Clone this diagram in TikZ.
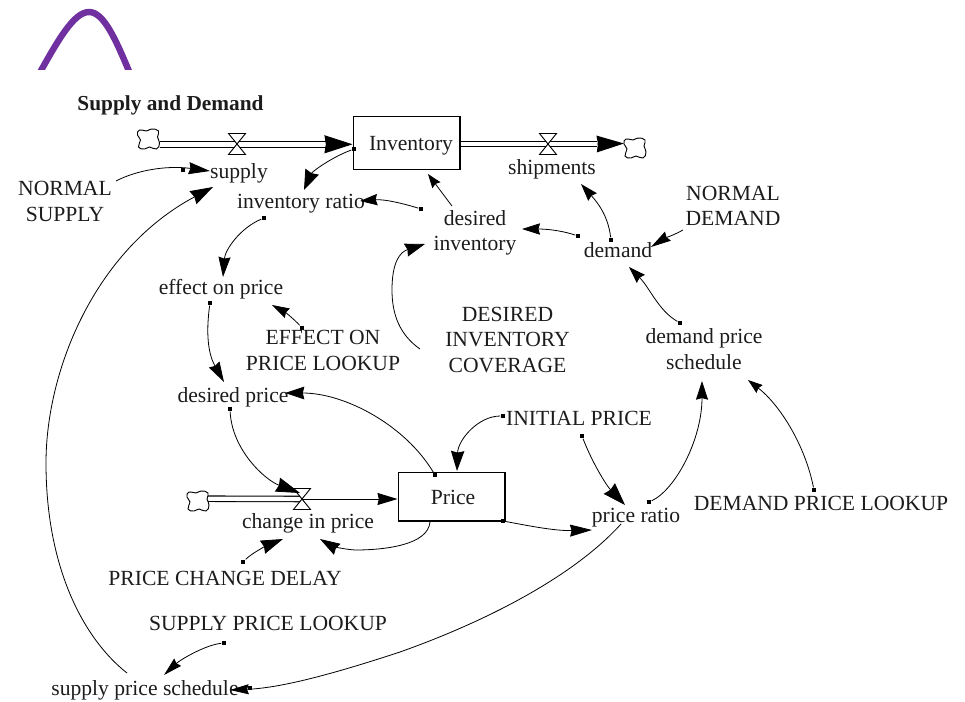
\documentclass[tikz,border=0pt]{standalone}
\usepackage{fontspec}
\setmainfont{Liberation Serif}
\usetikzlibrary{arrows.meta}
\definecolor{arcpurple}{HTML}{7030A0}
\definecolor{inkdark}{HTML}{1C1C1C}
\tikzset{
  lbl/.style={inner sep=0pt,align=center,text=inkdark,yshift=-0.6pt,font=\fontsize{16.2}{19.3}\selectfont},
  titlelbl/.style={inner sep=0pt,text=inkdark,yshift=-0.6pt,font=\bfseries\fontsize{16}{18}\selectfont},
  stockbox/.style={draw=black,line width=0.8pt,minimum width=80.2pt,inner sep=0pt},
  dotn/.style={fill=black,inner sep=0pt,minimum size=3.6pt,rectangle},
  link/.style={line width=0.6pt,black},
  hd/.style 2 args={-{Stealth[length=#1pt,width=#2pt,inset=1.2pt]}},
  pipe/.style={draw=black,line width=0.8pt,double=white,double distance=3.3pt},
  flowhead/.style 2 args={line width=0.7pt,-{Stealth[length=#1pt,width=#2pt,inset=1pt]}},
  cloud shape/.pic={\draw[line width=0.7pt,black,fill=white] plot[smooth cycle,tension=0.9] coordinates
     {(-9,-9)(-2,-8)(3,-10)(10,-8)(9,-2)(11,4)(8,10)(1,8)(-4,10)(-10,8)(-8,1)(-11,-4)};},
  valve shape/.pic={\draw[line width=0.7pt,black,fill=white] (-8.5,-10.5)--(8.5,-10.5)--(-8.5,10.5)--(8.5,10.5)--cycle;}
}
\begin{document}
\begin{tikzpicture}[x=0.75pt,y=-0.75pt]
\useasboundingbox (0,0) rectangle (965,701);
% decorative arc
\begin{scope}
  \clip (0,0) rectangle (965,69);
  \draw[arcpurple,line width=4.8pt] (38,76) .. controls (58,40) and (74,12) .. (89,12) .. controls (104,12) and (116,40) .. (131,76);
\end{scope}
% stocks
\node[stockbox,minimum height=39.7pt] (inv) at (406.5,143) {};
\node[stockbox,minimum height=36.7pt] (price) at (451.5,496.5) {};
% texts
\node[titlelbl] (title) at (170.5,105) {Supply and Demand};
\node[lbl] (invtext) at (411,145) {Inventory};
\node[lbl] (pricetext) at (453,497) {Price};
\node[lbl] (supply) at (239,173) {supply};
\node[lbl] (shipments) at (552,168) {shipments};
\node[lbl] (normsup) at (65,201) {NORMAL\\SUPPLY};
\node[lbl] (invratio) at (301,203) {inventory ratio};
\node[lbl] (desinv) at (475,232) {desired\\inventory};
\node[lbl] (demand) at (618,249) {demand};
\node[lbl] (normdem) at (733,205) {NORMAL\\DEMAND};
\node[lbl] (effprice) at (221,288) {effect on price};
\node[lbl] (efflook) at (323,350) {EFFECT ON\\PRICE LOOKUP};
\node[lbl] (cover) at (507.5,339) {DESIRED\\INVENTORY\\COVERAGE};
\node[lbl] (dps) at (704,348.5) {demand price\\schedule};
\node[lbl] (desprice) at (233,396) {desired price};
\node[lbl] (initprice) at (579,418) {INITIAL PRICE};
\node[lbl] (priceratio) at (636,517) {price ratio};
\node[lbl] (demlook) at (821,503) {DEMAND PRICE LOOKUP};
\node[lbl] (change) at (308,523) {change in price};
\node[lbl] (pcd) at (225,578) {PRICE CHANGE DELAY};
\node[lbl] (suplook) at (268,623) {SUPPLY PRICE LOOKUP};
\node[lbl] (sps) at (145,690) {supply price schedule};
% flow coordinates
\coordinate (cl1) at (148.5,139);
\coordinate (cl2) at (635,148);
\coordinate (cl3) at (198,501);
\coordinate (v1) at (237,144);
\coordinate (v2) at (548,144);
\coordinate (v3) at (302,499);
\coordinate (p1s) at (160,144.3);
\coordinate (p1e) at (327,144.3);
\coordinate (p1t) at (inv.west|-p1e);
\coordinate (p2s) at (inv.east|-v2);
\coordinate (p2e) at (597,144);
\coordinate (p2t) at (624,143.5);
\coordinate (p3s) at (207,498.7);
\coordinate (p3e) at (v3);
\coordinate (p3t) at (price.west|-v3);
% flows
\draw[pipe] (p1s) -- (p1e);
\draw[flowhead={21}{13.5}] (p1e) -- (p1t);
\draw[pipe] (p2s) -- (p2e);
\draw[flowhead={20.5}{12.5}] (p2e) -- (p2t);
\draw[pipe] (p3s) -- (p3e);
\draw[flowhead={15}{9}] (p3e) -- (p3t);
\pic at (cl1) {cloud shape};
\pic at (cl2) {cloud shape};
\pic at (cl3) {cloud shape};
\pic at (v1) {valve shape};
\pic at (v2) {valve shape};
\pic at (v3) {valve shape};
% link ends (arrow tips and tails)
\coordinate (ta) at (210,171);   \coordinate (sa) at (116,181);
\coordinate (tb) at (213,187);   \coordinate (sb) at (127,673);
\coordinate (tc) at (304,190);
\coordinate (td) at (428,174);   \coordinate (sd) at (452,206);
\coordinate (te) at (360,201);
\coordinate (tf) at (223,277);
\coordinate (tg) at (425,244);   \coordinate (sg) at (420,349);
\coordinate (th) at (224,382);
\coordinate (ti) at (272,305);
\coordinate (tj) at (581,184);
\coordinate (tk) at (522,229);
\coordinate (tl) at (651,247);   \coordinate (sl) at (683,230);
\coordinate (tm) at (629,267);
\coordinate (tn) at (702,381);
\coordinate (to) at (748,380);
\coordinate (tp) at (457,471);
\coordinate (tq) at (625,505);
\coordinate (tr) at (592,530);
\coordinate (ts) at (285,393);
\coordinate (tt) at (300,493);
\coordinate (tu) at (320,539);   \coordinate (su) at (430,522);
\coordinate (tv) at (283,539);
\coordinate (tw) at (164,675);
\coordinate (tx) at (230,690);   \coordinate (sx) at (621,524);
% dots
\node[dotn] (da) at (183,170) {};
\node[dotn] (dc) at (354,149) {};
\node[dotn] (de) at (421,209) {};
\node[dotn] (df) at (264,218) {};
\node[dotn] (dh) at (210,303) {};
\node[dotn] (di) at (302,328) {};
\node[dotn] (dj) at (611,240) {};
\node[dotn] (dk) at (578,236) {};
\node[dotn] (dm) at (680,323) {};
\node[dotn] (dn) at (649,502) {};
\node[dotn] (do) at (814,490) {};
\node[dotn] (dp) at (503,416) {};
\node[dotn] (dq) at (582,436) {};
\node[dotn] (dr) at (503,521) {};
\node[dotn] (ds) at (435,475) {};
\node[dotn] (dt) at (230,409) {};
\node[dotn] (dv) at (243,562) {};
\node[dotn] (dw) at (224,643) {};
\node[dotn] (dx) at (250,688) {};
% links
\draw[link,hd={16}{9}] (sa) .. controls (135,171) and (165,165) .. (ta);
\draw[link,hd={17}{11}] (sb) .. controls (85,640) and (46,570) .. (46,463)
   .. controls (46,370) and (95,250) .. (tb);
\draw[link,hd={15}{11}] (dc) .. controls (330,158) and (312,172) .. (tc);
\draw[link,hd={10.5}{7.5}] (sd) -- (td);
\draw[link,hd={13}{8.5}] (de) .. controls (405,204) and (385,199) .. (te);
\draw[link,hd={15}{9}] (df) .. controls (240,228) and (225,250) .. (tf);
\draw[link,hd={15}{10}] (sg) .. controls (400,335) and (392,315) .. (392,290)
   .. controls (392,262) and (400,252) .. (tg);
\draw[link,hd={15}{9}] (dh) .. controls (207,325) and (206,350) .. (th);
\draw[link,hd={13}{8}] (di) .. controls (295,320) and (285,312) .. (ti);
\draw[link,hd={13}{8.5}] (dj) .. controls (608,215) and (597,202) .. (tj);
\draw[link,hd={13.5}{8.5}] (dk) .. controls (560,230) and (545,229) .. (tk);
\draw[link,hd={15}{8}] (sl) .. controls (672,236) and (665,238) .. (tl);
\draw[link,hd={12.5}{8.5}] (dm) .. controls (658,310) and (650,288) .. (tm);
\draw[link,hd={14}{9}] (dn) .. controls (675,490) and (702,440) .. (tn);
\draw[link,hd={11}{7.5}] (do) .. controls (805,445) and (780,405) .. (to);
\draw[link,hd={15}{10}] (dp) .. controls (478,416) and (458,440) .. (tp);
\draw[link,hd={17}{11.5}] (dq) .. controls (592,462) and (606,485) .. (tq);
\draw[link,hd={16.5}{9}] (dr) .. controls (530,526) and (555,531) .. (tr);
\draw[link,hd={14.5}{9.5}] (ds) .. controls (405,425) and (345,393) .. (ts);
\draw[link,hd={18}{11}] (dt) .. controls (232,450) and (265,480) .. (tt);
\draw[link,hd={15}{9.5}] (su) .. controls (428,545) and (385,550) .. (355,550)
   .. controls (340,549) and (330,545) .. (tu);
\draw[link,hd={16.5}{10.5}] (dv) .. controls (252,553) and (268,545) .. (tv);
\draw[link,hd={14}{7.5}] (dw) .. controls (205,645) and (180,660) .. (tw);
\draw[link,hd={14}{7.5}] (sx) .. controls (575,575) and (490,620) .. (400,652)
   .. controls (330,675) and (280,688) .. (tx);
\end{tikzpicture}
\end{document}
